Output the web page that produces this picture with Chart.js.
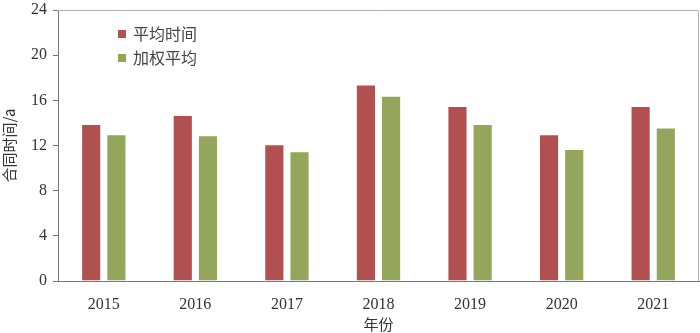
<!DOCTYPE html>
<html>
<head>
<meta charset="utf-8">
<script src="https://cdn.jsdelivr.net/npm/chart.js@4"></script>
<style>
  html, body { margin: 0; padding: 0; background: #fff; }
  #wrap { width: 700px; height: 333px; }
</style>
</head>
<body>
<div id="wrap"><canvas id="barChart" width="700" height="333"></canvas></div>
<script>
// data
const years = ['2015', '2016', '2017', '2018', '2019', '2020', '2021'];
const avgTime = [13.9, 14.7, 12.1, 17.4, 15.5, 13.0, 15.5];
const weightedAvg = [13.0, 12.9, 11.5, 16.4, 13.9, 11.7, 13.6];
const yTicks = [0, 4, 8, 12, 16, 20, 24];

const serif = '"Liberation Serif", "DejaVu Serif", serif';
const cjk = '"Noto Sans CJK SC", "Liberation Serif", serif';

// box round the plot area + legend inside it
const frameAndLegend = {
  id: 'frameAndLegend',
  beforeDatasetsDraw(chart) {
    const {ctx, chartArea} = chart;
    ctx.save();
    ctx.strokeStyle = '#b0b0b0';
    ctx.lineWidth = 1;
    ctx.beginPath();
    ctx.moveTo(chartArea.left, chartArea.top + 0.5);
    ctx.lineTo(chartArea.right - 0.5, chartArea.top + 0.5);
    ctx.lineTo(chartArea.right - 0.5, chartArea.bottom);
    ctx.stroke();
    ctx.restore();
  },
  afterDraw(chart) {
    const {ctx, chartArea} = chart;
    ctx.save();
    ctx.font = '16px ' + cjk;
    ctx.textBaseline = 'middle';
    chart.data.datasets.forEach((ds, i) => {
      const x = chartArea.left + 60;
      const y = chartArea.top + 24 + i * 24;
      ctx.fillStyle = ds.backgroundColor;
      ctx.fillRect(x, y - 4, 8, 8);
      ctx.fillStyle = '#444';
      ctx.fillText(ds.label, x + 15, y);
    });
    ctx.restore();
  }
};

const ctx = document.getElementById('barChart').getContext('2d');
new Chart(ctx, {
  type: 'bar',
  data: {
    labels: years,
    datasets: [
      {
        label: '平均时间',
        data: avgTime,
        backgroundColor: '#b05150',
        borderColor: 'rgba(255,255,255,0.55)',
        borderWidth: 1,
        categoryPercentage: 0.55,
        barPercentage: 0.8
      },
      {
        label: '加权平均',
        data: weightedAvg,
        backgroundColor: '#93a65c',
        borderColor: 'rgba(255,255,255,0.55)',
        borderWidth: 1,
        categoryPercentage: 0.55,
        barPercentage: 0.8
      }
    ]
  },
  options: {
    responsive: false,
    animation: false,
    devicePixelRatio: 1,
    layout: {padding: {top: 10, right: 1, left: 0, bottom: 0}},
    plugins: {
      legend: {display: false},
      tooltip: {enabled: false}
    },
    scales: {
      x: {
        grid: {display: false},
        border: {color: '#777', width: 1},
        ticks: {
          color: '#333',
          font: {family: serif, size: 16},
          padding: 6
        },
        title: {
          display: true,
          text: '年份',
          color: '#333',
          font: {family: cjk, size: 15},
          padding: {top: 4, bottom: 0}
        },
        afterFit(scale) {
          scale.height = 52;
          scale.paddingLeft = 0;
          scale.paddingRight = 0;
        }
      },
      y: {
        min: 0,
        max: 24,
        afterBuildTicks(scale) {
          scale.ticks = yTicks.map(v => ({value: v}));
        },
        grid: {
          display: true,
          drawOnChartArea: false,
          drawTicks: true,
          tickLength: 5,
          color: '#777'
        },
        border: {color: '#777', width: 1},
        ticks: {
          color: '#333',
          font: {family: serif, size: 16},
          padding: 6
        },
        title: {
          display: true,
          text: '合同时间/a',
          color: '#333',
          font: {family: cjk, size: 15},
          padding: {top: 0, bottom: 0}
        },
        afterFit(scale) {
          scale.width = 58;
          scale.paddingTop = 0;
          scale.paddingBottom = 0;
        }
      }
    }
  },
  plugins: [frameAndLegend]
});
</script>
</body>
</html>
